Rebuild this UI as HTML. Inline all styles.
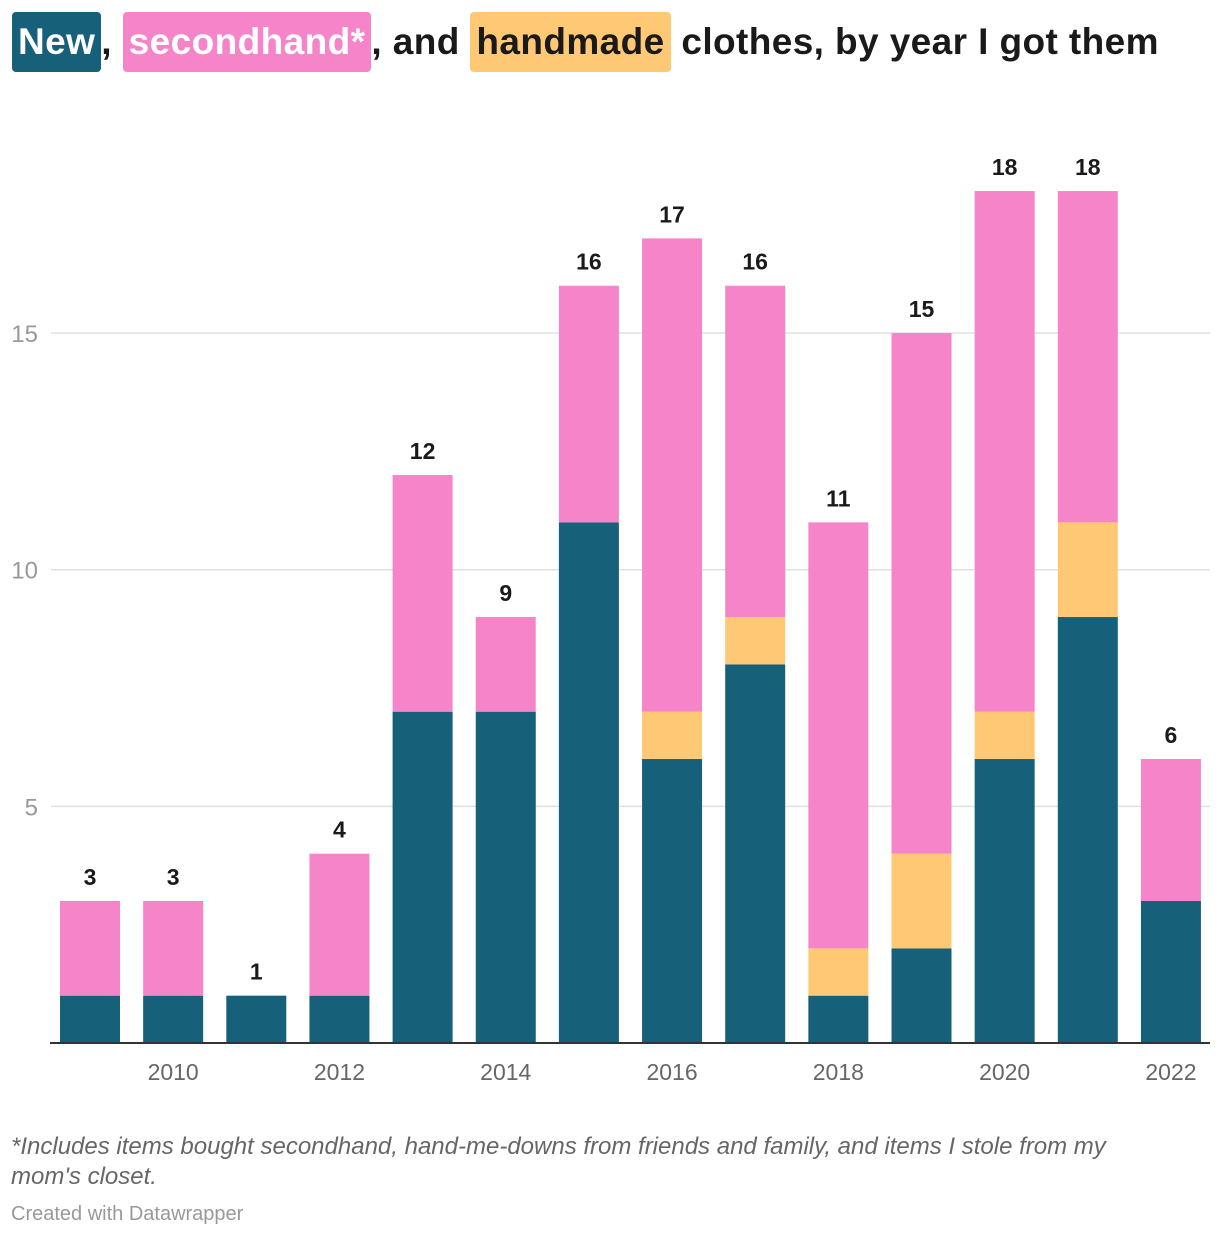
<!DOCTYPE html>
<html><head><meta charset="utf-8"><style>
body{margin:0;width:1220px;height:1238px;background:#fff;font-family:"Liberation Sans",sans-serif;overflow:hidden;position:relative}
.title{position:absolute;left:12px;top:12px;font-size:37px;letter-spacing:0.4px;font-weight:bold;color:#1a1a1a;white-space:nowrap;line-height:60px;height:60px}
.tag{display:inline-block;border-radius:4px;padding:0 6px;line-height:60px}
.note{position:absolute;left:11px;top:1132px;font-size:24px;font-style:italic;color:#666;line-height:30px;width:1120px}
.credit{position:absolute;left:11px;top:1203px;font-size:20px;color:#999}
</style></head><body>
<div class="title"><span class="tag" style="background:#16607a;color:#fff">New</span>, <span class="tag" style="background:#f684c9;color:#fff">secondhand*</span>, and <span class="tag" style="background:#ffc875;color:#1a1a1a">handmade</span> clothes, by year I got them</div>
<svg id="chart" width="1220" height="1238" style="position:absolute;left:0;top:0"></svg>
<div class="note">*Includes items bought secondhand, hand-me-downs from friends and family, and items I stole from my mom's closet.</div>
<div class="credit">Created with Datawrapper</div>
<script>
const years=[2009,2010,2011,2012,2013,2014,2015,2016,2017,2018,2019,2020,2021,2022];
const newVals=[1,1,1,1,7,7,11,6,8,1,2,6,9,3];
const handmadeVals=[0,0,0,0,0,0,0,1,1,1,2,1,2,0];
const secondVals=[2,2,0,3,5,2,5,10,7,9,11,11,7,3];
const yTicks=[5,10,15];
const xTickYears=[2010,2012,2014,2016,2018,2020,2022];
const NS='http://www.w3.org/2000/svg';
const svg=document.getElementById('chart');
const y0=1043,ppu=47.33;
const y=v=>y0-v*ppu;
const x=i=>60+i*83.15;
const bw=60;
function mk(t,a){const e=document.createElementNS(NS,t);for(const k in a)e.setAttribute(k,a[k]);svg.appendChild(e);return e;}
yTicks.forEach(t=>{
  const l=mk('line',{x1:51,x2:1210,y1:y(t),y2:y(t),stroke:'#e0e0e0','stroke-width':1.5});
  
  
  const tx=mk('text',{x:38,y:y(t)+9,'text-anchor':'end','font-size':24,fill:'#999'});
  tx.textContent=t;
  
  
});
years.forEach((yr,i)=>{
  const segs=[[newVals[i],'#16607a','new'],[handmadeVals[i],'#ffc875','handmade'],[secondVals[i],'#f684c9','secondhand']];
  let acc=0;
  segs.forEach(([v,c,n])=>{
    if(v>0){const r=mk('rect',{x:x(i),y:y(acc+v),width:bw,height:v*ppu,fill:c});
    
    }
    acc+=v;
  });
  const lb=mk('text',{x:x(i)+bw/2,y:y(acc)-16,'text-anchor':'middle','font-size':23,'font-weight':'bold',fill:'#1a1a1a'});
  lb.textContent=acc;
  
  
  if(xTickYears.includes(yr)){
    const t=mk('text',{x:x(i)+bw/2,y:1080,'text-anchor':'middle','font-size':23,fill:'#666'});
    t.textContent=yr;
    
    
  }
});
const base=mk('line',{x1:50,x2:1210,y1:y0,y2:y0,stroke:'#333','stroke-width':2});


</script>
</body></html>
